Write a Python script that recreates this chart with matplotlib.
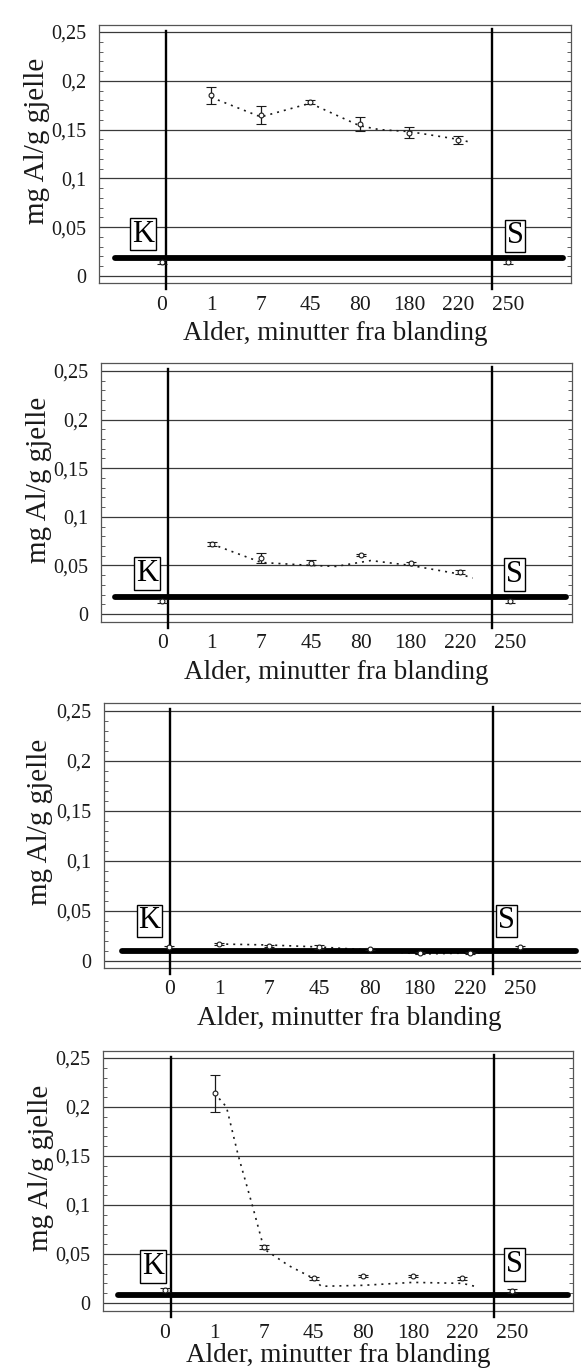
import matplotlib
matplotlib.use("Agg")
import matplotlib.pyplot as plt
from matplotlib.ticker import MultipleLocator

plt.rcParams['font.family'] = ['Liberation Serif', 'DejaVu Serif']

# ---------------- data ----------------
categories = ["0", "1", "7", "45", "80", "180", "220", "250"]

p1_mean = [0.014, 0.185, 0.165, 0.178, 0.156, 0.147, 0.139, 0.014]
p1_err = [0.002, 0.009, 0.009, 0.002, 0.007, 0.006, 0.004, 0.002]
p1_trend_x = [1, 2, 3, 4, 4.4, 5, 6, 6.25]
p1_trend_y = [0.183, 0.163, 0.177, 0.154, 0.150, 0.148, 0.140, 0.137]

p2_mean = [0.013, 0.072, 0.058, 0.053, 0.061, 0.052, 0.043, 0.013]
p2_err = [0.002, 0.002, 0.005, 0.003, 0.001, 0.002, 0.002, 0.002]
p2_trend_x = [1, 2, 3, 3.5, 4.2, 5, 6, 6.25]
p2_trend_y = [0.072, 0.053, 0.050, 0.049, 0.055, 0.050, 0.041, 0.037]

p3_mean = [0.014, 0.017, 0.015, 0.014, 0.012, 0.008, 0.008, 0.014]
p3_err = [0.001, 0.001, 0.001, 0.002, 0.001, 0.001, 0.001, 0.001]
p3_trend_x = [1, 2, 3, 4, 5, 6, 6.25]
p3_trend_y = [0.017, 0.016, 0.014, 0.011, 0.007, 0.008, 0.008]

p4_mean = [0.013, 0.214, 0.057, 0.025, 0.028, 0.028, 0.025, 0.012]
p4_err = [0.002, 0.019, 0.002, 0.002, 0.001, 0.001, 0.002, 0.002]
p4_trend_x = [1, 1.24, 1.48, 1.76, 2, 2.5, 3, 3.15, 4, 5, 6, 6.25]
p4_trend_y = [0.214, 0.200, 0.150, 0.100, 0.055, 0.038, 0.025, 0.017, 0.018, 0.021, 0.020, 0.017]

baseline = [0.018, 0.0175, 0.010, 0.008]

yticks = [0, 0.05, 0.1, 0.15, 0.2, 0.25]
ytick_labels = ["0", "0,05", "0,1", "0,15", "0,2", "0,25"]

xlabel = "Alder, minutter fra blanding"
ylabel = "mg Al/g gjelle"

# ---------------- layout (pixels) ----------------
W, H = 581, 1371
fig = plt.figure(figsize=(W / 100, H / 100), dpi=100)

panels = [
    dict(mean=p1_mean, err=p1_err, tx=p1_trend_x, ty=p1_trend_y, base=baseline[0],
         box=(99, 571, 25, 283), xlim=(-1.275, 8.28), ylim=(-0.0072, 0.2572),
         vK=0.08, vS=6.68, K=(-0.38, 0.043), S=(7.15, 0.041), lp=5),
    dict(mean=p2_mean, err=p2_err, tx=p2_trend_x, ty=p2_trend_y, base=baseline[1],
         box=(101, 572, 363, 622), xlim=(-1.23, 8.25), ylim=(-0.0082, 0.2582),
         vK=0.12, vS=6.64, K=(-0.31, 0.042), S=(7.09, 0.041), lp=5),
    dict(mean=p3_mean, err=p3_err, tx=p3_trend_x, ty=p3_trend_y, base=baseline[2],
         box=(104, 595, 703, 968), xlim=(-1.30, 8.50), ylim=(-0.007, 0.258),
         vK=0.02, vS=6.47, K=(-0.39, 0.040), S=(6.73, 0.040), lp=5),
    dict(mean=p4_mean, err=p4_err, tx=p4_trend_x, ty=p4_trend_y, base=baseline[3],
         box=(103, 573, 1051, 1311), xlim=(-1.25, 8.23), ylim=(-0.0082, 0.2571),
         vK=0.12, vS=6.63, K=(-0.24, 0.037), S=(7.05, 0.039), lp=0),
]

ink = '#1a1a1a'
grid = '#3a3a3a'

for p in panels:
    l, r, t, b = p['box']
    ax = fig.add_axes([l / W, 1 - b / H, (r - l) / W, (b - t) / H])
    ax.set_xlim(*p['xlim'])
    ax.set_ylim(*p['ylim'])
    for s in ax.spines.values():
        s.set_color('#555555')
        s.set_linewidth(0.9)

    # gridlines
    for yv in yticks:
        ax.axhline(yv, color=grid, lw=0.9, zorder=1)

    # ticks
    ax.set_yticks(yticks)
    ax.set_yticklabels(ytick_labels)
    ax.yaxis.set_minor_locator(MultipleLocator(0.01))
    ax.tick_params(axis='y', which='both', direction='in', left=True, right=True,
                   labelsize=14.5, pad=9, colors=ink)
    ax.tick_params(axis='y', which='minor', length=3, width=0.6, color='#444444')
    ax.tick_params(axis='y', which='major', length=0)
    xs = list(range(len(categories)))
    ax.set_xticks(xs)
    ax.set_xticklabels(categories)
    ax.tick_params(axis='x', length=0, labelsize=15.5, pad=9, colors=ink)

    ax.set_xlabel(xlabel, fontsize=19.5, color=ink, labelpad=p['lp'])
    ax.set_ylabel(ylabel, fontsize=21, color=ink)
    ax.yaxis.set_label_coords(-0.104, 0.55)

    # thick baseline
    ax.plot([-0.95, 8.12], [p['base'], p['base']], color='black', lw=4.2,
            solid_capstyle='round', zorder=4)

    # vertical separators
    ax.plot([p['vK'], p['vK']], [p['ylim'][1] - 0.006, p['ylim'][0] - 0.006],
            color='black', lw=1.7, clip_on=False, zorder=5)
    ax.plot([p['vS'], p['vS']], [p['ylim'][1] - 0.004, p['ylim'][0] - 0.006],
            color='black', lw=1.7, clip_on=False, zorder=5)

    # trend
    ax.plot(p['tx'], p['ty'], color=ink, lw=1.2, ls=(0, (1.2, 3.0)), zorder=3)

    # data with error bars
    ax.errorbar(xs, p['mean'], yerr=p['err'], fmt='o', ms=3.5, mfc='white',
                mec=ink, mew=0.8, ecolor=ink, elinewidth=0.9, capsize=3.5,
                capthick=0.9, zorder=6)

    # K / S boxes
    for lab, (bx, by) in (("K", p['K']), ("S", p['S'])):
        ax.text(bx, by, lab, ha='center', va='center', fontsize=22, color='black',
                zorder=7,
                bbox=dict(boxstyle='square,pad=0.06', fc='white', ec='black', lw=1.0))

fig.savefig("out.png", dpi=100)
